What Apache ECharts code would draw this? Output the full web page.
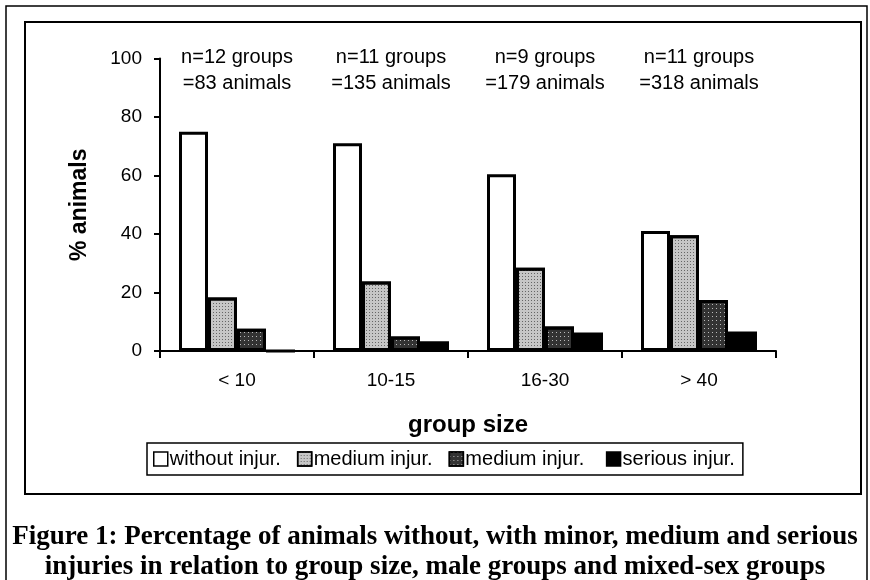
<!DOCTYPE html>
<html><head><meta charset="utf-8">
<script src="https://cdn.jsdelivr.net/npm/echarts@6/dist/echarts.min.js"></script>
<style>html,body{margin:0;padding:0;background:#fff}#c{width:870px;height:580px}</style>
</head><body><div id="c"></div>
<script>
const categories = ['< 10', '10-15', '16-30', '> 40'];
const headerLabels = ['n=12 groups\n=83 animals', 'n=11 groups\n=135 animals', 'n=9 groups\n=179 animals', 'n=11 groups\n=318 animals'];
const seriesNames = ['without injur.', 'medium injur.', 'medium injur. ', 'serious injur.'];
const withoutInjur = [75, 71, 60.4, 41];
const mediumLight = [18.3, 23.8, 28.5, 39.6];
const mediumDark = [7.6, 5, 8.4, 17.4];
const seriousInjur = [0, 3.3, 6.3, 6.7];
const yTicks = [0, 20, 40, 60, 80, 100];

const fills = ['#ffffff', '#c6c6c6', '#333333', '#000000'];
const decals = [
  null,
  {symbol: 'rect', symbolSize: 1, dashArrayX: [1, 2], dashArrayY: [1, 2], color: '#666'},
  {symbol: 'rect', symbolSize: 1, dashArrayX: [1, 3], dashArrayY: [1, 3], color: '#bbb'},
  null
];
const values = [withoutInjur, mediumLight, mediumDark, seriousInjur];

const chart = echarts.init(document.getElementById('c'), null, {renderer: 'canvas'});
const font = 'Liberation Sans, Arial, sans-serif';
chart.setOption({
  animation: false,
  backgroundColor: '#fff',
  title: {
    text: 'Figure 1: Percentage of animals without, with minor, medium and serious\ninjuries in relation to group size, male groups and mixed-sex groups',
    left: 'center', top: 517,
    textStyle: {fontFamily: 'Liberation Serif, Times New Roman, serif', fontWeight: 'bold', fontSize: 27, lineHeight: 30, color: '#000'}
  },
  graphic: [
    {type: 'rect', shape: {x: 6, y: 6, width: 861, height: 600}, style: {fill: 'none', stroke: '#000', lineWidth: 1.5}, silent: true},
    {type: 'rect', shape: {x: 25, y: 22, width: 836, height: 472}, style: {fill: 'none', stroke: '#000', lineWidth: 2}, silent: true}
  ],
  legend: {
    left: 147, top: 443,
    data: seriesNames,
    itemWidth: 14, itemHeight: 14, itemGap: 16,
    padding: [6, 8, 6, 6],
    borderColor: '#000', borderWidth: 1.5,
    icon: 'rect',
    textStyle: {fontFamily: font, fontSize: 20, color: '#000', padding: [0, 0, 0, -3]},
    itemStyle: {borderColor: '#000', borderWidth: 1.5}
  },
  grid: {left: 160, right: 94, top: 58.5, bottom: 229},
  xAxis: [
    {
      type: 'category', data: categories, position: 'bottom',
      axisLine: {lineStyle: {color: '#000', width: 2}},
      axisTick: {show: true, length: 7, lineStyle: {color: '#000', width: 2}},
      axisLabel: {color: '#000', fontFamily: font, fontSize: 19, margin: 20},
      name: 'group size', nameLocation: 'middle', nameGap: 62,
      nameTextStyle: {fontFamily: font, fontWeight: 'bold', fontSize: 24, color: '#000'}
    },
    {
      type: 'category', data: headerLabels, position: 'top', offset: -40,
      axisLine: {show: false}, axisTick: {show: false},
      axisLabel: {color: '#000', fontFamily: font, fontSize: 20, lineHeight: 26, margin: 2, interval: 0, hideOverlap: false}
    }
  ],
  yAxis: {
    type: 'value', min: 0, max: 100, interval: 20,
    axisLine: {show: true, lineStyle: {color: '#000', width: 2}},
    axisTick: {show: true, length: 6, lineStyle: {color: '#000', width: 2}},
    splitLine: {show: false},
    axisLabel: {color: '#000', fontFamily: font, fontSize: 19, margin: 18,
      formatter: v => yTicks.includes(v) ? String(v) : ''},
    name: '% animals', nameLocation: 'middle', nameGap: 69, nameRotate: 90,
    nameTextStyle: {fontFamily: font, fontWeight: 'bold', fontSize: 23, color: '#000'}
  },
  series: seriesNames.map((n, i) => {
    const style = {color: fills[i], borderColor: '#000', borderWidth: 3};
    if (decals[i]) style.decal = decals[i];
    return {
      name: n, type: 'bar', xAxisIndex: 0,
      data: values[i],
      barWidth: 29, barGap: '0%',
      itemStyle: style
    };
  })
});
</script></body></html>
